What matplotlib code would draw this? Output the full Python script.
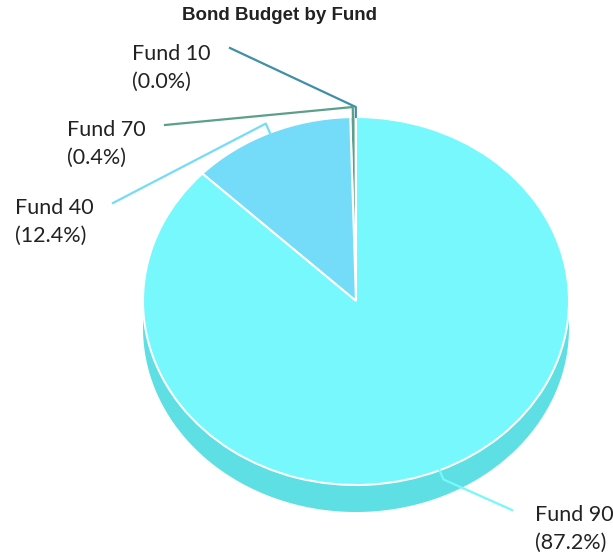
import numpy as np
import matplotlib.pyplot as plt
from matplotlib.patches import Polygon
from matplotlib.transforms import Affine2D

# data
funds = ['Fund 10', 'Fund 70', 'Fund 40', 'Fund 90']
shares = [0.03, 0.4, 12.4, 87.2]
top_colors = ['#3f8fa6', '#5c9f8a', '#74dcf8', '#76f8fc']
side_colors = ['#357a8e', '#4e8876', '#62bcd4', '#5edfe3']

# layout (pixels, from top-left)
W, H = 613, 559
cx, cy_px = 356, 301
rx, ry = 213, 184
depth = 27
label_xy = {'Fund 10': (132, 44), 'Fund 70': (67, 120),
            'Fund 40': (15, 198), 'Fund 90': (535, 505)}
line_end = {'Fund 10': (230, 48), 'Fund 70': (165, 125),
            'Fund 40': (113, 203), 'Fund 90': (512, 510)}

cy = H - cy_px
k = ry / rx

fig = plt.figure(figsize=(W / 100, H / 100), dpi=100)
ax = fig.add_axes([0, 0, 1, 1])

wedges, _ = ax.pie(shares, colors=top_colors, startangle=90, counterclock=True,
                   center=(cx, cy), radius=rx, frame=True,
                   wedgeprops=dict(edgecolor='white', linewidth=1.5))
squash = Affine2D().translate(-cx, -cy).scale(1, k).translate(cx, cy)
for w in wedges:
    w.set_transform(squash + ax.transData)
    w.set_zorder(3)

# side of the pie (front half only)
for w, sc in zip(wedges, side_colors):
    for off in (0, 360):
        a = max(w.theta1, 180 + off)
        b = min(w.theta2, 360 + off)
        if b <= a:
            continue
        t = np.radians(np.linspace(a, b, 200))
        xs = cx + rx * np.cos(t)
        ys = cy + ry * np.sin(t)
        pts = np.column_stack([np.r_[xs, xs[::-1]], np.r_[ys, ys[::-1] - depth]])
        ax.add_patch(Polygon(pts, closed=True, facecolor=sc, edgecolor='none', zorder=2))

# labels and connectors
total = sum(shares)
for w, name, val, col in zip(wedges, funds, shares, top_colors):
    mid = np.radians((w.theta1 + w.theta2) / 2)
    ax_x = cx + rx * np.cos(mid)
    ax_y = cy + ry * np.sin(mid)
    el_x = ax_x + 10 * np.cos(mid)
    el_y = ax_y + 10 * np.sin(mid)
    ex, ey = line_end[name]
    ax.plot([ax_x, el_x, ex], [ax_y, el_y, H - ey], color=col, lw=1.6,
            solid_joinstyle='round', zorder=4)
    lx, ly = label_xy[name]
    ax.text(lx, H - ly, f'{name}\n({val / total * 100:.1f}%)', ha='left', va='top',
            fontsize=15.5, family='Lato', color='#222222', linespacing=1.5, zorder=5)

ax.text(279, H - 15, 'Bond Budget by Fund', ha='center', va='center',
        fontsize=13.5, fontweight='bold', family='Liberation Sans', color='#222222')

ax.set_aspect('auto')
ax.set_xlim(0, W)
ax.set_ylim(0, H)
ax.axis('off')

fig.savefig('out.png', dpi=100)
